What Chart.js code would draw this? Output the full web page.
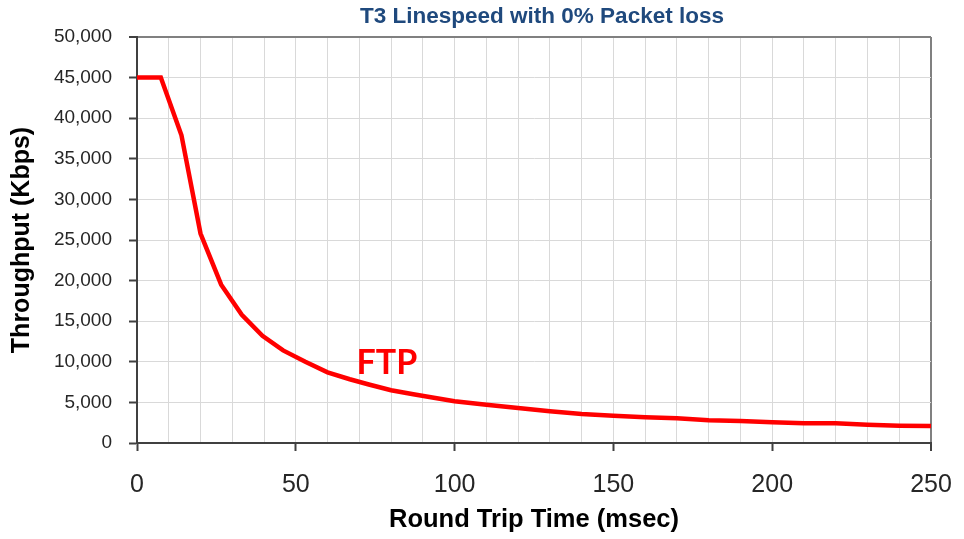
<!DOCTYPE html>
<html>
<head>
<meta charset="utf-8">
<script src="https://cdn.jsdelivr.net/npm/chart.js@4.4.1/dist/chart.umd.min.js"></script>
<style>
  html, body { margin: 0; padding: 0; background: #ffffff; }
  #wrap { width: 964px; height: 539px; position: relative; }
</style>
</head>
<body>
<div id="wrap"><canvas id="c" width="964" height="539"></canvas></div>
<script>
// ---- data ----
const rttMsec = [0, 7.5, 14, 20, 26.5, 33, 39.5, 46, 53, 60, 67, 73, 80, 87, 93, 100,
                 110, 120, 130, 140, 150, 160, 170, 180, 190, 200, 210, 220, 230, 240, 250];
const ftpKbps = [45000, 45000, 37900, 25800, 19500, 15800, 13200, 11400, 10000, 8700, 7850, 7200, 6500, 6000, 5600, 5150,
                 4700, 4300, 3900, 3580, 3360, 3160, 3040, 2790, 2710, 2550, 2420, 2420, 2250, 2130, 2090];
const seriesName = 'FTP';
const chartTitle = 'T3 Linespeed with 0% Packet loss';
const xTitle = 'Round Trip Time (msec)';
const yTitle = 'Throughput (Kbps)';
const xRange = [0, 250];
const yRange = [0, 50000];
const seriesLabelAt = [78.7, 9840];

const overlay = {
  id: 'overlay',
  afterDraw(chart) {
    const ctx = chart.ctx;
    const xs = chart.scales.x, ys = chart.scales.y;
    ctx.save();
    ctx.fillStyle = '#1F497D';
    ctx.font = 'bold 22.5px "Liberation Sans", Arial, sans-serif';
    ctx.textAlign = 'center';
    ctx.textBaseline = 'middle';
    ctx.fillText(chartTitle, 542, 17);
    ctx.fillStyle = '#FF0000';
    ctx.font = 'bold 34px Lato, "Open Sans", sans-serif';
    ctx.fillText(seriesName, xs.getPixelForValue(seriesLabelAt[0]), ys.getPixelForValue(seriesLabelAt[1]));
    ctx.restore();
  }
};

new Chart(document.getElementById('c'), {
  type: 'line',
  data: {
    datasets: [{
      label: seriesName,
      data: rttMsec.map((x, i) => ({ x: x, y: ftpKbps[i] })),
      borderColor: '#FF0000',
      borderWidth: 4.5,
      pointRadius: 0,
      tension: 0,
      fill: false
    }]
  },
  options: {
    responsive: false,
    animation: false,
    layout: { padding: { top: 37, right: 33, left: 0, bottom: 0 } },
    plugins: { legend: { display: false }, title: { display: false }, tooltip: { enabled: false } },
    scales: {
      x: {
        type: 'linear',
        min: xRange[0], max: xRange[1],
        afterFit(s) { s.height = 96; s.paddingRight = 0; s.paddingLeft = 0; },
        border: { color: '#404040', width: 2 },
        grid: {
          color: (c) => c.tick && c.tick.value === xRange[1] ? '#808080' : '#d9d9d9',
          lineWidth: (c) => c.tick && c.tick.value === xRange[1] ? 2 : 1,
          tickColor: (c) => c.tick && c.tick.value % 50 === 0 ? '#404040' : 'rgba(0,0,0,0)',
          tickLength: 8,
          tickWidth: 2
        },
        ticks: {
          stepSize: 10, autoSkip: false, maxRotation: 0, minRotation: 0,
          padding: 19,
          color: '#262626',
          font: { family: '"Liberation Sans", Arial, sans-serif', size: 25 },
          callback: (v) => v % 50 === 0 ? String(v) : ''
        },
        title: {
          display: true, text: xTitle, color: '#000000',
          font: { family: '"Liberation Sans", Arial, sans-serif', size: 25.5, weight: 'bold' },
          padding: { top: 4, bottom: 4 }
        }
      },
      y: {
        min: yRange[0], max: yRange[1],
        afterFit(s) { s.width = 137; s.paddingTop = 0; s.paddingBottom = 0; },
        border: { color: '#404040', width: 2 },
        grid: {
          color: (c) => c.tick && c.tick.value === yRange[1] ? '#808080' : '#d9d9d9',
          lineWidth: (c) => c.tick && c.tick.value === yRange[1] ? 2 : 1,
          tickColor: '#404040',
          tickLength: 8,
          tickWidth: 2
        },
        ticks: {
          stepSize: 5000,
          padding: 17,
          color: '#262626',
          font: { family: '"Liberation Sans", Arial, sans-serif', size: 19 },
          callback: (v) => Number(v).toLocaleString('en-US')
        },
        title: {
          display: true, text: yTitle, color: '#000000',
          font: { family: '"Liberation Sans", Arial, sans-serif', size: 25, weight: 'bold' },
          padding: { top: 7, bottom: 7 }
        }
      }
    }
  },
  plugins: [overlay]
});
</script>
</body>
</html>
